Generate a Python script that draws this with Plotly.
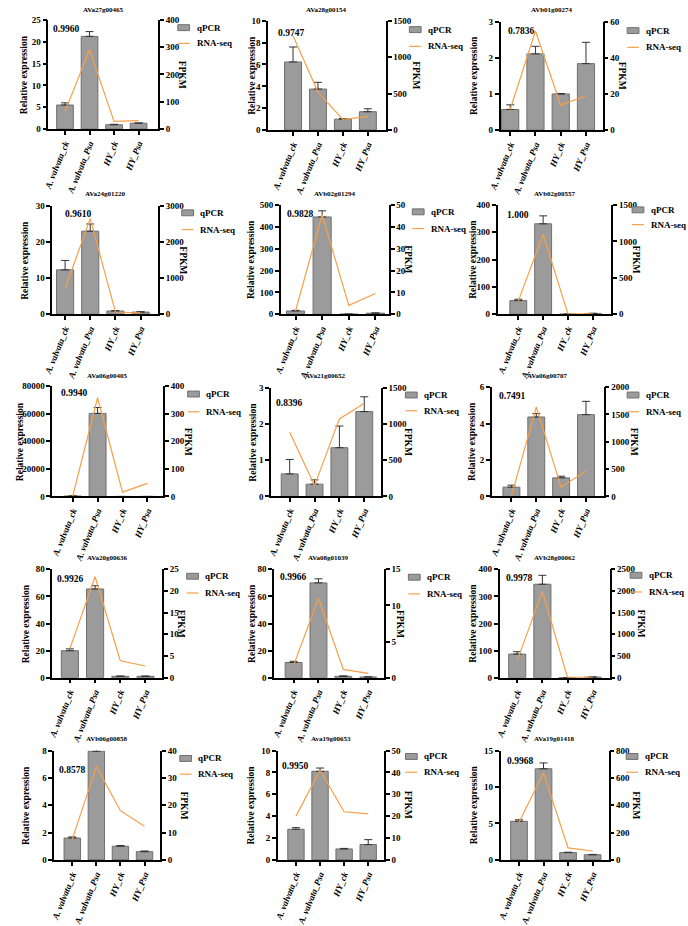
import plotly.graph_objects as go

# ---------------- data ----------------
categories = ["A. valvata_ck", "A. valvata_Psa", "HY_ck", "HY_Psa"]
genes = ["AVa27g00465", "AVa28g00154", "AVb01g00274",
         "AVa24g01220", "AVb02g01294", "AVb02g00557",
         "AVa06g00405", "AVa21g00652", "AVa06g00707",
         "AVa20g00636", "AVa08g01039", "AVb28g00062",
         "AVb06g00858", "Ava19g00653", "AVa19g01418"]
corr_r = ["0.9960", "0.9747", "0.7836",
          "0.9610", "0.9828", "1.000",
          "0.9940", "0.8396", "0.7491",
          "0.9926", "0.9966", "0.9978",
          "0.8578", "0.9950", "0.9968"]
qpcr_mean = [
    [5.5, 21.2, 1.0, 1.35],
    [6.23, 3.75, 1.0, 1.68],
    [0.57, 2.11, 1.0, 1.84],
    [12.3, 23.0, 0.9, 0.6],
    [15, 445, 0.5, 5],
    [50, 331, 0.5, 3],
    [300, 60240, 1, 5],
    [0.625, 0.34, 1.35, 2.35],
    [0.51, 4.36, 1.02, 4.49],
    [19.9, 65.5, 1.0, 1.0],
    [11.2, 70.0, 1.0, 0.5],
    [87, 345, 0.5, 2],
    [1.6, 7.95, 1.0, 0.6],
    [2.8, 8.1, 1.0, 1.4],
    [5.3, 12.5, 1.0, 0.7],
]
qpcr_sd = [
    [0.5, 1.1, 0.1, 0.05],
    [1.37, 0.62, 0.05, 0.27],
    [0.13, 0.21, 0.01, 0.59],
    [2.6, 2.0, 0.1, 0.1],
    [3, 28, 0.2, 1],
    [5, 29, 0.1, 0.5],
    [50, 4280, 0.5, 1],
    [0.4, 0.12, 0.6, 0.41],
    [0.11, 0.19, 0.09, 0.73],
    [1.4, 2.4, 0.2, 0.2],
    [0.9, 3.0, 0.3, 0.1],
    [9, 33, 0.1, 0.5],
    [0.08, 0.65, 0.05, 0.05],
    [0.15, 0.3, 0.05, 0.45],
    [0.2, 0.8, 0.05, 0.05],
]
rnaseq_fpkm = [
    [64, 290, 28, 31],
    [1293, 521, 148, 184],
    [11.4, 54.9, 13.8, 19.0],
    [707, 2647, 63, 36],
    [1.5, 45.5, 4.05, 9.5],
    [180, 1095, 5, 5],
    [1, 358, 15.5, 47.6],
    [888, 150, 1074, 1291],
    [5, 1636, 170, 467],
    [6.7, 23.3, 3.9, 2.7],
    [1.7, 11.0, 1.14, 0.6],
    [394, 1992, 5, 5],
    [7.5, 34.2, 18, 12.3],
    [20, 41, 22, 21],
    [275, 635, 88, 65],
]
left_max = [25, 10, 3, 30, 500, 400, 80000, 3, 6, 80, 80, 400, 8, 10, 15]
left_dtick = [5, 2, 1, 10, 100, 100, 20000, 1, 2, 20, 20, 100, 2, 2, 5]
right_max = [400, 1500, 60, 3000, 50, 1500, 400, 1500, 2000, 25, 15, 2500, 40, 50, 800]
right_dtick = [100, 500, 20, 1000, 10, 500, 100, 500, 500, 5, 5, 500, 10, 10, 200]
legend_names = ["qPCR", "RNA-seq"]

# ---------------- layout geometry (pixels) ----------------
W, H = 688, 926
boxes = [  # left, right, top, bottom of each plot area
    (36, 148, 15, 126), (260, 380, 16, 127), (497, 601, 17, 127),
    (40, 148, 204, 314), (273, 383, 203, 314), (494, 610, 203, 314),
    (40, 153, 387, 499), (263, 375, 389, 499), (488, 602, 388, 499),
    (40, 152, 573, 683), (266, 378, 573, 683), (496, 608, 573, 683),
    (42, 150, 757, 868), (270, 378, 757, 868), (497, 607, 757, 868),
]
xranges = [(-0.68, 3.8), (-1.0, 3.72), (-0.38, 3.66),
           (-0.51, 3.7), (-0.55, 3.5), (-0.83, 3.75),
           (-0.82, 3.63), (-0.75, 3.67), (-0.79, 3.71),
           (-0.7, 3.66), (-0.79, 3.63), (-0.7, 3.67),
           (-0.75, 3.65), (-0.75, 3.65), (-0.75, 3.65)]
title_y = [5, 5, 5, 192, 192, 192, 377, 377, 377, 561, 561, 561, 745, 745, 745]
corr_pos = [(39, 24), (268, 28), (503, 26), (51, 212), (277, 212), (501, 213),
            (47, 394), (266, 404), (493, 397), (43, 583), (270, 581), (500, 582),
            (45, 777), (272, 773), (501, 768)]
relx = [12, 244, 470, 12, 242, 468, 7, 245, 468, 13, 243, 468, 13, 243, 470]
fpkmx = [172, 410, 621, 173, 403, 635, 178, 402, 633, 172, 395, 641, 174, 402, 635]
legpos = [(168, 23, 39), (404, 25, 42), (626, 26, 43),
          (172, 211, 228), (407, 210, 227), (631, 208, 223),
          (178, 395, 413), (400, 396, 412), (626, 396, 413),
          (177, 580, 597), (403, 581, 598), (629, 579, 596),
          (170, 765, 781), (400, 763, 779), (625, 763, 779)]

FONT = "Liberation Serif"
BAR_FILL = "#9b9b9b"
BAR_LINE = "#6f6f6f"
ORANGE = "#F5A04A"

def px_x(p):
    return p / W

def px_y(p):
    return 1 - p / H

fig = go.Figure()
annotations = []
shapes = []
layout = {}

for i in range(15):
    n = i + 1
    xname = "x" if n == 1 else f"x{n}"
    ylname = "y" if n == 1 else f"y{2 * n - 1}"
    yrname = f"y{2 * n}"
    l, r, t, b = boxes[i]

    fig.add_trace(go.Bar(
        x=categories, y=qpcr_mean[i], name=legend_names[0],
        xaxis=xname, yaxis=ylname, showlegend=False, cliponaxis=False,
        width=0.68,
        marker=dict(color=BAR_FILL, line=dict(color=BAR_LINE, width=1)),
        error_y=dict(type="data", array=qpcr_sd[i], arrayminus=[0] * 4,
                     symmetric=False, color="#333333", thickness=1, width=4),
    ))
    fig.add_trace(go.Scatter(
        x=categories, y=rnaseq_fpkm[i], name=legend_names[1], mode="lines",
        xaxis=xname, yaxis=yrname, showlegend=False, cliponaxis=False,
        line=dict(color=ORANGE, width=1.2),
    ))

    axis_common = dict(showline=True, linecolor="black", linewidth=1.5,
                       ticks="outside", ticklen=4, tickwidth=1.5, tickcolor="black",
                       showgrid=False, zeroline=False)
    layout["xaxis" if n == 1 else f"xaxis{n}"] = dict(
        domain=[px_x(l), px_x(r)], anchor=ylname, type="category",
        range=list(xranges[i]),
        tickvals=categories,
        ticktext=[f"<i>{c}</i>" for c in categories],
        tickangle=-68,
        tickfont=dict(family=FONT, size=9, color="black", weight="bold"),
        **axis_common)
    layout["yaxis" if n == 1 else f"yaxis{2 * n - 1}"] = dict(
        domain=[px_y(b), px_y(t)], anchor=xname,
        range=[0, left_max[i]], tick0=0, dtick=left_dtick[i], tickformat="d",
        tickfont=dict(family=FONT, size=9, color="black", weight="bold"),
        **axis_common)
    layout[f"yaxis{2 * n}"] = dict(
        domain=[px_y(b), px_y(t)], anchor=xname, overlaying=ylname, side="right",
        range=[0, right_max[i]], tick0=0, dtick=right_dtick[i], tickformat="d",
        tickfont=dict(family=FONT, size=9, color="black", weight="bold"),
        **axis_common)

    # legend keys (per panel)
    lx, ly1, ly2 = legpos[i]
    shapes.append(dict(type="rect", xref="paper", yref="paper",
                       x0=px_x(lx), x1=px_x(lx + 12), y0=px_y(ly1 + 3), y1=px_y(ly1 - 3),
                       fillcolor=BAR_FILL, line=dict(color=BAR_LINE, width=1)))
    shapes.append(dict(type="line", xref="paper", yref="paper",
                       x0=px_x(lx), x1=px_x(lx + 12), y0=px_y(ly2), y1=px_y(ly2),
                       line=dict(color=ORANGE, width=1.2)))
    for txt, yy in ((legend_names[0], ly1), (legend_names[1], ly2)):
        annotations.append(dict(
            text=f"<b>{txt}</b>", x=px_x(lx + 17), y=px_y(yy),
            xref="paper", yref="paper", showarrow=False, xanchor="left", yanchor="middle",
            font=dict(family=FONT, size=9, color="black")))

    annotations.append(dict(
        text=f"<b>{genes[i]}</b>", x=px_x((l + r) / 2), y=px_y(title_y[i]),
        xref="paper", yref="paper", showarrow=False, xanchor="center", yanchor="middle",
        font=dict(family=FONT, size=7, color="black")))
    cx, cy = corr_pos[i]
    annotations.append(dict(
        text=f"<b>{corr_r[i]}</b>", x=px_x(cx), y=px_y(cy),
        xref="paper", yref="paper", showarrow=False, xanchor="left", yanchor="middle",
        font=dict(family=FONT, size=9.5, color="black")))
    annotations.append(dict(
        text="<b>Relative expression</b>", x=px_x(relx[i]), y=px_y((t + b) / 2),
        xref="paper", yref="paper", showarrow=False, xanchor="center", yanchor="middle",
        textangle=-90, font=dict(family=FONT, size=9.5, color="black")))
    annotations.append(dict(
        text="<b>FPKM</b>", x=px_x(fpkmx[i]), y=px_y((t + b) / 2),
        xref="paper", yref="paper", showarrow=False, xanchor="center", yanchor="middle",
        textangle=90, font=dict(family=FONT, size=9.5, color="black")))

fig.update_layout(
    width=W, height=H, margin=dict(l=0, r=0, t=0, b=0),
    paper_bgcolor="white", plot_bgcolor="white",
    showlegend=False, bargap=0.3,
    annotations=annotations, shapes=shapes,
    **layout,
)

fig.write_html("out.html")
